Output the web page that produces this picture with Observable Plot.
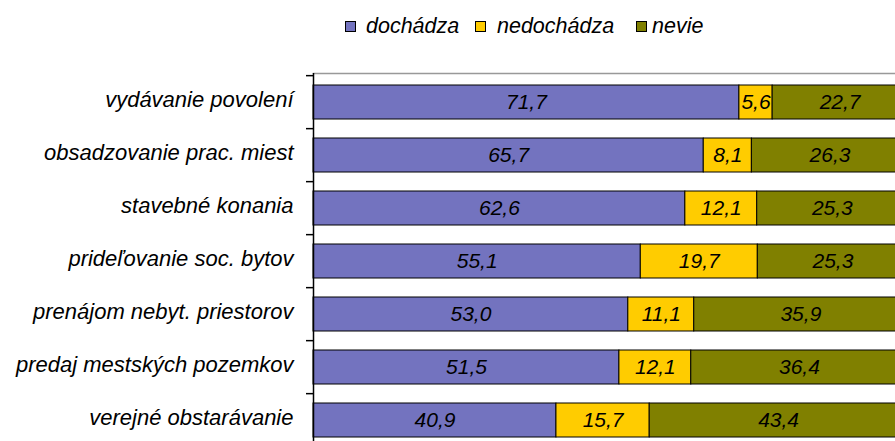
<!DOCTYPE html>
<html>
<head>
<meta charset="utf-8">
<script src="https://cdn.jsdelivr.net/npm/d3@7"></script>
<script src="https://cdn.jsdelivr.net/npm/@observablehq/plot@0.6"></script>
<style>
  html, body { margin: 0; padding: 0; background: #fff; overflow: hidden; width: 895px; height: 441px; }
  #wrap { position: relative; width: 895px; height: 441px; overflow: hidden; }
  #legend { position: absolute; top: 0; left: 0; width: 895px; height: 60px; font-family: "Liberation Sans", Arial, sans-serif; font-style: italic; font-size: 21.5px; color: #000; }
  .sw { position: absolute; top: 21px; width: 9px; height: 9px; border: 1px solid #000; }
  .lt { position: absolute; top: 14px; white-space: nowrap; line-height: 25px; }
  #chart { position: absolute; top: 0; left: 0; }
  #chart svg { max-width: none !important; }
</style>
</head>
<body>
<div id="wrap">
  <div id="legend"></div>
  <div id="chart"></div>
</div>
<script>
const categories = [
  "vydávanie povolení",
  "obsadzovanie prac. miest",
  "stavebné konania",
  "prideľovanie soc. bytov",
  "prenájom nebyt. priestorov",
  "predaj mestských pozemkov",
  "verejné obstarávanie"
];
const series = ["dochádza", "nedochádza", "nevie"];
const colors = ["#7373BF", "#FFCC00", "#808000"];
const dochadza = [71.7, 65.7, 62.6, 55.1, 53.0, 51.5, 40.9];
const nedochadza = [5.6, 8.1, 12.1, 19.7, 11.1, 12.1, 15.7];
const nevie = [22.7, 26.3, 25.3, 25.3, 35.9, 36.4, 43.4];

const valuesBySeries = [dochadza, nedochadza, nevie];
const data = [];
categories.forEach((c, i) => {
  series.forEach((s, j) => data.push({cat: c, series: s, value: valuesBySeries[j][i]}));
});
const fmt = v => v.toFixed(1).replace(".", ",");

// legend (HTML, above the plot area)
const legend = document.getElementById("legend");
const swLeft = [345, 475, 636];
const txtLeft = [366, 497, 652];
series.forEach((s, j) => {
  const sw = document.createElement("div");
  sw.className = "sw";
  sw.style.left = swLeft[j] + "px";
  sw.style.background = colors[j];
  const t = document.createElement("div");
  t.className = "lt";
  t.style.left = txtLeft[j] + "px";
  t.textContent = s;
  legend.appendChild(sw); legend.appendChild(t);
});

const marginTop = 73, marginLeft = 313;
const n = categories.length;
const step = 53.7;
const height = Math.round(marginTop + n * step);
const width = 907;
const pxPerUnit = (width - marginLeft) / 100;

const font = "Liberation Sans, Arial, sans-serif";

const chart = Plot.plot({
  width, height,
  marginTop, marginLeft, marginRight: 0, marginBottom: 0,
  style: {fontFamily: font, background: "transparent", overflow: "visible", maxWidth: "none"},
  x: {domain: [0, 100], axis: null},
  y: {domain: categories, axis: null, paddingInner: 0.36, paddingOuter: 0.18},
  color: {domain: series, range: colors},
  marks: [
    Plot.frame({anchor: "top", stroke: "#999", strokeWidth: 1.5}),
    Plot.barX(data, Plot.stackX({x: "value", y: "cat", z: "series", fill: "series", stroke: "#000", strokeWidth: 1})),
    Plot.text(data, Plot.stackX({
      x: "value", y: "cat", z: "series",
      text: d => fmt(d.value),
      fontSize: 21, fontStyle: "italic", fill: "#000"
    })),
    Plot.ruleY(categories, {y: d => d, dy: -step / 2, x1: -7 / pxPerUnit, x2: 0, stroke: "#000", strokeWidth: 1.5}),
    Plot.ruleX([0], {stroke: "#000", strokeWidth: 1.5}),
    Plot.text(categories, {
      y: d => d, text: d => d, frameAnchor: "left", dx: -20, dy: -3,
      textAnchor: "end", fontSize: 22, fontStyle: "italic", fill: "#000"
    })
  ]
});
document.getElementById("chart").appendChild(chart);
</script>
</body>
</html>
